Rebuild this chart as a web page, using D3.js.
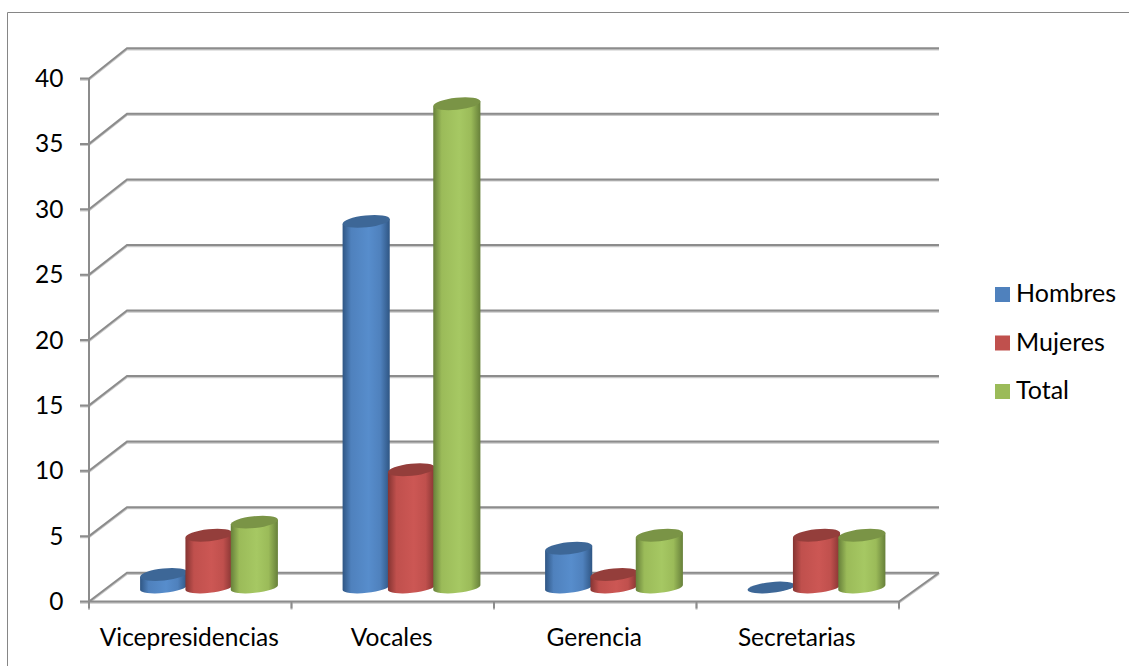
<!DOCTYPE html>
<html><head><meta charset="utf-8">
<script src="https://cdn.jsdelivr.net/npm/d3@7"></script>
<style>html,body{margin:0;background:#fff}svg{display:block}text{font-family:Lato,"Open Sans",sans-serif;fill:#000}</style>
</head><body><svg id="c" width="1129" height="666"></svg>
<script>
const categories = ["Vicepresidencias","Vocales","Gerencia","Secretarias"];
const seriesNames = ["Hombres","Mujeres","Total"];
const hombres = [1,28,3,0];
const mujeres = [4,9,1,4];
const total = [5,37,4,4];
const yTicks = [0,5,10,15,20,25,30,35,40];
const seriesValues = [hombres,mujeres,total];
const palette = [
 {id:"b",legend:"#4f81bd",top:"#3d6797",edge:"#2f5684",mid:"#4f81bd",hi:"#578dcc"},
 {id:"r",legend:"#c0504d",top:"#943e3b",edge:"#853432",mid:"#c0504d",hi:"#cc5754"},
 {id:"g",legend:"#9bbb59",top:"#7a9446",edge:"#67803a",mid:"#9bbb59",hi:"#a6c863"}
];
const W=1129,H=666, L=89,R=899,T=78.5,B=601.5, DX=38;
const svg=d3.select("#c");
const defs=svg.append("defs");
palette.forEach(p=>{
  const g=defs.append("linearGradient").attr("id","grad-"+p.id);
  [[0,p.edge],[.18,p.mid],[.55,p.hi],[.8,p.mid],[1,p.edge]].forEach(s=>g.append("stop").attr("offset",s[0]).attr("stop-color",s[1]));
});
const x=d3.scaleBand().domain(categories).range([L,R]);
const inner=d3.scaleBand().domain(seriesNames).range([52,52+136]);
const y=d3.scaleLinear().domain([0,40]).range([B,T]);
const yBack=d3.scaleLinear().domain([0,40]).range([572.7,48.3]);

svg.append("path").attr("d",`M1129,12.5H7.5V666`).attr("fill","none").attr("stroke","#868686").attr("stroke-width",1);

const grid="#8c8c8c", shadow="#c9c9c9";
const g=svg.append("g").attr("fill","none");
function line(d){ g.append("path").attr("d",d).attr("stroke",shadow).attr("stroke-width",2).attr("transform","translate(0,1.2)");
                  g.append("path").attr("d",d).attr("stroke",grid).attr("stroke-width",2); }
yTicks.forEach(t=>{
  line(`M${L-9},${y(t)}H${L}L${L+DX},${yBack(t)}H${R+DX+2}`);
});
line(`M${L},${T}V${B+7}`);
line(`M${L},${B}H${R}L${R+DX+2},${yBack(0)}`);
categories.concat(["end"]).forEach((c,i)=>{
  const px=i<categories.length? x(c):R;
  line(`M${px},${B}V${B+7}`);
});

const rx=23.7, ry=5.4, ryTop=6, theta=6*Math.PI/180, baseY=587.5;
const cs=Math.cos(theta), sn=Math.sin(theta), rot=-6;
const barG=svg.append("g");
categories.forEach((c,ci)=>{
  seriesNames.forEach((s,si)=>{
    const v=seriesValues[si][ci], p=palette[si];
    const cx=x(c)+inner(s)+inner.bandwidth()/2;
    const h=y(0)-y(v);
    const lx=cx-rx*cs, rxx=cx+rx*cs, dy=rx*sn;
    if(v>0){
      barG.append("path")
        .attr("d",`M${lx},${baseY+dy-h}L${lx},${baseY+dy}A${rx},${ry},${rot},0,0,${rxx},${baseY-dy}L${rxx},${baseY-dy-h}Z`)
        .attr("fill",`url(#grad-${p.id})`);
    }
    barG.append("ellipse").attr("rx",rx).attr("ry",v>0?ryTop:ry)
      .attr("transform",`translate(${cx},${baseY-h}) rotate(${rot})`)
      .attr("fill",p.top);
  });
});

svg.append("g").selectAll("text").data(yTicks).join("text")
  .attr("x",63.5).attr("y",d=>y(d)+8.5).attr("text-anchor","end").attr("font-size",24.5).text(d=>d);
svg.append("g").selectAll("text").data(categories).join("text")
  .attr("x",d=>x(d)+x.bandwidth()/2-1).attr("y",646).attr("text-anchor","middle").attr("font-size",24.5).text(d=>d);

const leg=d3.scalePoint().domain(seriesNames).range([294,391]);
const lg=svg.append("g");
seriesNames.forEach((s,i)=>{
  lg.append("rect").attr("x",995).attr("y",leg(s)-7).attr("width",15).attr("height",15).attr("fill",palette[i].legend);
  lg.append("text").attr("x",1016).attr("y",leg(s)+8).attr("font-size",25).text(s);
});
</script></body></html>
